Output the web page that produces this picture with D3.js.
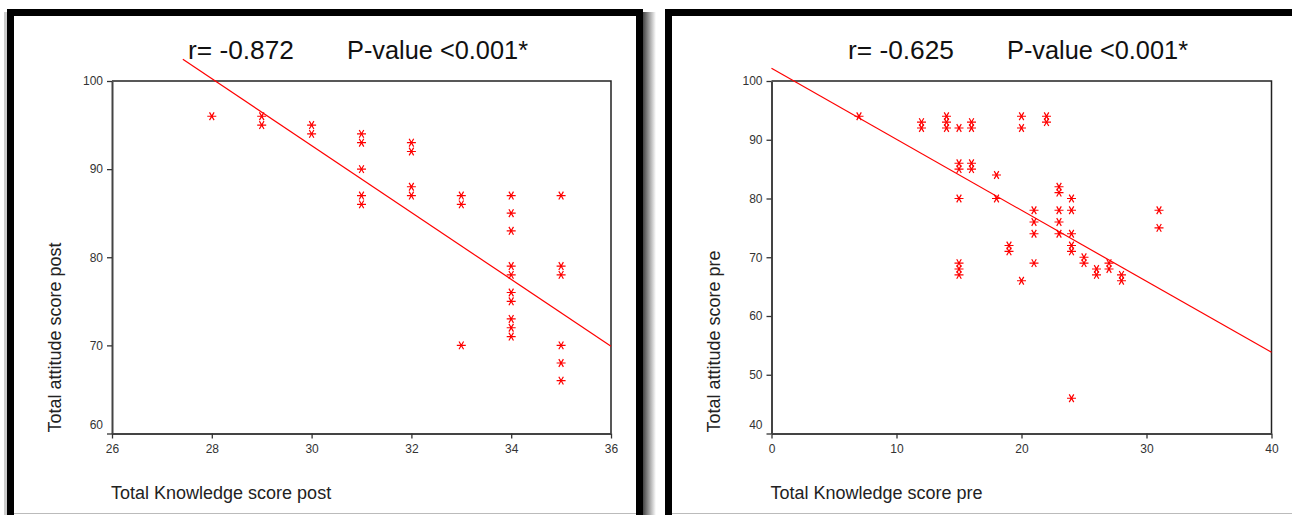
<!DOCTYPE html>
<html>
<head>
<meta charset="utf-8">
<script src="https://cdn.jsdelivr.net/npm/d3@7"></script>
<style>
  body { margin: 0; background: #fff; }
  text { font-family: "Liberation Sans", Arial, sans-serif; }
</style>
</head>
<body>
<script>
// post scores (left chart)
var postKnowledge = [28, 29, 29, 30, 30, 31, 31, 31, 31, 31, 32, 32, 32, 32, 33, 33, 33,
                     34, 34, 34, 34, 34, 34, 34, 34, 34, 34, 35, 35, 35, 35, 35, 35];
var postAttitude  = [96, 96, 95, 95, 94, 94, 93, 90, 87, 86, 93, 92, 88, 87, 87, 86, 70,
                     87, 85, 83, 79, 78, 76, 75, 73, 72, 71, 87, 79, 78, 70, 68, 66];
var postFitX = [27.42, 36];
var postFitY = [102.46, 69.9];
var postXTicks = [26, 28, 30, 32, 34, 36];
var postYTicks = [60, 70, 80, 90, 100];

// pre scores (right chart)
var preKnowledge = [7, 12, 12, 14, 14, 14, 15, 16, 16, 20, 20, 22, 22,
                    15, 15, 16, 16, 18, 15, 18, 23, 23, 24, 21, 23, 24, 31, 31,
                    21, 23, 21, 23, 24, 19, 19, 24, 24, 15, 15, 15, 21, 20,
                    25, 25, 26, 26, 27, 27, 28, 28, 24];
var preAttitude  = [94, 93, 92, 94, 93, 92, 92, 93, 92, 94, 92, 94, 93,
                    86, 85, 86, 85, 84, 80, 80, 82, 81, 80, 78, 78, 78, 78, 75,
                    76, 76, 74, 74, 74, 72, 71, 72, 71, 69, 68, 67, 69, 66,
                    70, 69, 68, 67, 69, 68, 67, 66, 46];
var preFitX = [0, 40];
var preFitY = [102.16, 53.82];
var preXTicks = [0, 10, 20, 30, 40];
var preYTicks = [40, 50, 60, 70, 80, 90, 100];

var svg = d3.select("body").append("svg")
    .attr("width", 1292)
    .attr("height", 515);

// shadow gradient for the left frame
var grad = svg.append("defs").append("linearGradient")
    .attr("id", "shade").attr("x1", "0").attr("x2", "1");
grad.append("stop").attr("offset", "0").attr("stop-color", "#444");
grad.append("stop").attr("offset", "1").attr("stop-color", "#fff");

svg.append("rect")
    .attr("x", 643).attr("y", 12).attr("width", 13).attr("height", 503)
    .attr("fill", "url(#shade)");
svg.append("rect")
    .attr("x", 4).attr("y", 12).attr("width", 3).attr("height", 503)
    .attr("fill", "#ccc");

// frames
svg.append("rect")
    .attr("x", 10.5).attr("y", 12.5).attr("width", 629).attr("height", 600)
    .attr("fill", "none").attr("stroke", "#000").attr("stroke-width", 7);
svg.append("rect")
    .attr("x", 668.5).attr("y", 12.5).attr("width", 700).attr("height", 600)
    .attr("fill", "none").attr("stroke", "#000").attr("stroke-width", 7);

svg.append("line").attr("x1", 14).attr("x2", 636).attr("y1", 513.5).attr("y2", 513.5)
    .attr("stroke", "#bbb");
svg.append("line").attr("x1", 672).attr("x2", 1292).attr("y1", 513.5).attr("y2", 513.5)
    .attr("stroke", "#bbb");

var star = "M-4.5,0H4.5M-2.3,-3.9L2.3,3.9M-2.3,3.9L2.3,-3.9";

function drawPanel(o) {
    var x = d3.scaleLinear().domain(o.xDomain).range([o.left, o.right]);
    var y = d3.scaleLinear().domain(o.yDomain).range([o.bottom, o.top]);

    // top / right box
    svg.append("path")
        .attr("d", "M" + o.left + "," + o.top + "H" + o.right + "V" + o.bottom)
        .attr("fill", "none").attr("stroke", "#222").attr("stroke-width", 1.5);

    var gx = svg.append("g")
        .attr("transform", "translate(0," + o.bottom + ")")
        .call(d3.axisBottom(x).tickValues(o.xTicks).tickSize(5).tickSizeOuter(0).tickFormat(d3.format("d")));
    var gy = svg.append("g")
        .attr("transform", "translate(" + o.left + ",0)")
        .call(d3.axisLeft(y).tickValues(o.yTicks).tickSize(5).tickSizeOuter(0).tickFormat(d3.format("d")));

    [gx, gy].forEach(function (g) {
        g.select(".domain").attr("stroke", "#444").attr("stroke-width", 2);
        g.selectAll(".tick line").attr("stroke", "#333").attr("stroke-width", 1.3);
        g.selectAll(".tick text").attr("fill", "#333")
            .style("font-size", "12px");
    });
    gx.selectAll(".tick text").attr("dy", "0.95em");
    gy.selectAll(".tick text").attr("x", -9);
    // lowest y label sits above the x axis
    gy.selectAll(".tick text").filter(function (d) { return d === o.yDomain[0]; })
        .attr("dy", "-0.4em");

    // fit line
    svg.append("line")
        .attr("x1", x(o.fitX[0])).attr("y1", y(o.fitY[0]))
        .attr("x2", x(o.fitX[1])).attr("y2", y(o.fitY[1]))
        .attr("stroke", "#ff0000").attr("stroke-width", 1.2);

    // points
    svg.append("g").selectAll("path")
        .data(o.xs)
        .join("path")
        .attr("d", star)
        .attr("transform", function (d, i) { return "translate(" + x(d) + "," + y(o.ys[i]) + ")"; })
        .attr("fill", "none").attr("stroke", "#ff0000").attr("stroke-width", 1.2);

    // titles
    svg.append("text")
        .attr("x", o.rX).attr("y", 59)
        .style("font-size", "25px").attr("fill", "#111")
        .attr("textLength", 106).attr("lengthAdjust", "spacingAndGlyphs")
        .text(o.rText);
    svg.append("text")
        .attr("x", o.rX + 159).attr("y", 59)
        .style("font-size", "25px").attr("fill", "#111")
        .attr("textLength", 181).attr("lengthAdjust", "spacingAndGlyphs")
        .text("P-value <0.001*");

    svg.append("text")
        .attr("x", o.left - 1).attr("y", 499)
        .style("font-size", "18px").attr("fill", "#222")
        .text(o.xLabel);
    svg.append("text")
        .attr("transform", "translate(" + o.yLabelX + "," + (o.bottom - 1) + ") rotate(-90)")
        .style("font-size", "18px").attr("fill", "#222")
        .text(o.yLabel);
}

drawPanel({
    xs: postKnowledge, ys: postAttitude, fitX: postFitX, fitY: postFitY,
    xDomain: [26, 36], yDomain: [60, 100], xTicks: postXTicks, yTicks: postYTicks,
    left: 112, right: 611, top: 81, bottom: 433.5,
    rX: 188, rText: "r= -0.872",
    xLabel: "Total Knowledge score post", yLabel: "Total attitude score post", yLabelX: 61
});

drawPanel({
    xs: preKnowledge, ys: preAttitude, fitX: preFitX, fitY: preFitY,
    xDomain: [0, 40], yDomain: [40, 100], xTicks: preXTicks, yTicks: preYTicks,
    left: 771.5, right: 1271.5, top: 81, bottom: 433.5,
    rX: 848, rText: "r= -0.625",
    xLabel: "Total Knowledge score pre", yLabel: "Total attitude score pre", yLabelX: 720
});
</script>
</body>
</html>
